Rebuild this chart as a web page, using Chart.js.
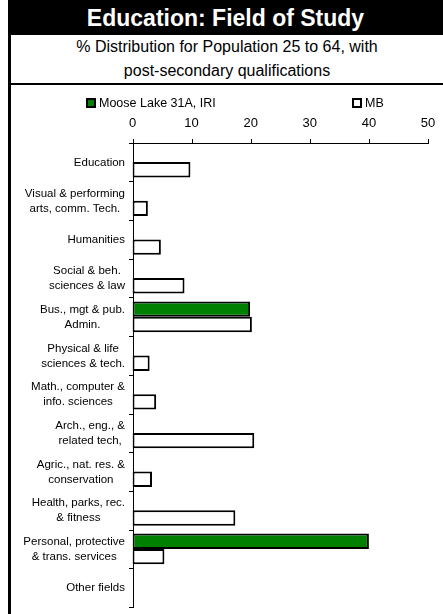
<!DOCTYPE html>
<html>
<head>
<meta charset="utf-8">
<script src="https://cdn.jsdelivr.net/npm/chart.js@4"></script>
<style>
  html, body { margin: 0; padding: 0; background: #fff; width: 443px; height: 614px; overflow: hidden; font-family: "Liberation Sans", Arial, sans-serif; }
  #frame { position: absolute; left: 8px; top: 0; width: 435px; height: 614px; border-left: 3px solid #000; box-sizing: border-box; }
  #title { position: absolute; left: 8px; top: 0; width: 435px; height: 35px; background: #000; color: #fff; font-weight: bold; font-size: 23px; line-height: 36px; text-align: center; }
  #subtitle { position: absolute; left: 11px; top: 35px; width: 432px; height: 48px; border-bottom: 2px solid #000; font-size: 16px; line-height: 24px; text-align: center; color: #000; }
  #chartwrap { position: absolute; left: 11px; top: 85px; width: 432px; height: 529px; z-index: 2; }
  .leg { position: absolute; top: 96px; font-size: 12.5px; line-height: 14px; color: #000; white-space: nowrap; z-index: 3; }
  .leg i { display: inline-block; width: 6px; height: 6px; border: 2px solid #000; vertical-align: -1px; margin-right: 3px; }
</style>
</head>
<body>
<div id="frame"></div>
<div id="title">Education: Field of Study</div>
<div id="subtitle">% Distribution for Population 25 to 64, with<br>post-secondary qualifications</div>
<div id="chartwrap"><canvas id="c"></canvas></div>
<div class="leg" style="left:86px"><i style="background:#008000"></i>Moose Lake 31A, IRI</div>
<div class="leg" style="left:352px"><i style="background:#fff"></i>MB</div>
<script>
const categories = [
  ["Education"],
  ["Visual & performing", "arts, comm. Tech."],
  ["Humanities"],
  ["Social & beh.", "sciences & law"],
  ["Bus., mgt & pub.", "Admin."],
  ["Physical & life", "sciences & tech."],
  ["Math., computer &", "info. sciences"],
  ["Arch., eng., &", "related tech,"],
  ["Agric., nat. res. &", "conservation"],
  ["Health, parks, rec.", "& fitness"],
  ["Personal, protective", "& trans. services"],
  ["Other fields"]
];
const seriesNames = ["Moose Lake 31A, IRI", "MB"];
const mooseLake = [0, 0, 0, 0, 19.9, 0, 0, 0, 0, 0, 40.0, 0];
const mb = [9.8, 2.6, 4.8, 8.8, 20.2, 2.9, 4.0, 20.6, 3.3, 17.4, 5.4, 0];
const xTicks = [0, 10, 20, 30, 40, 50];

const FONT = "'Liberation Sans', Arial, sans-serif";
const LABEL_SIZE = 11.5, LABEL_LH = 15;

// Category labels (lines centred on one another, block right-aligned),
// then axis lines and tick marks placed through the chart's own scales
const axisAndLabels = {
  id: 'axisAndLabels',
  afterDraw(chart) {
    const xs = chart.scales.x, ys = chart.scales.y, ctx = chart.ctx;
    ctx.save();
    ctx.font = LABEL_SIZE + "px " + FONT;
    ctx.fillStyle = '#000';
    ctx.textAlign = 'center';
    ctx.textBaseline = 'middle';
    const xLeft = Math.round(xs.getPixelForValue(xTicks[0]));
    categories.forEach((lines, i) => {
      const y = ys.getPixelForTick(i);
      const w = Math.max(...lines.map(l => ctx.measureText(l).width));
      const cx = xLeft - 8 - w / 2;
      lines.forEach((l, j) => {
        ctx.fillText(l, cx, y + 0.5 + (j - (lines.length - 1) / 2) * LABEL_LH);
      });
    });
    const top = Math.round(ys.getPixelForValue(-0.5));
    const bottom = Math.round(ys.getPixelForValue(categories.length - 0.5));
    const xRight = Math.round(xs.getPixelForValue(xTicks[xTicks.length - 1]));
    ctx.fillStyle = '#000000';
    ctx.fillRect(xLeft, top, xRight - xLeft + 1, 1);
    ctx.fillRect(xLeft, top, 1, bottom - top + 1);
    xTicks.forEach(v => {
      const x = Math.round(xs.getPixelForValue(v));
      ctx.fillRect(x, top - 4, 1, 5);
    });
    for (let i = 0; i <= categories.length; i++) {
      const y = Math.round(ys.getPixelForValue(i - 0.5));
      ctx.fillRect(xLeft - 4, y, 5, 1);
    }
    ctx.restore();
  }
};

const bw = c => (c.raw ? 2 : 0);

new Chart(document.getElementById('c'), {
  type: 'bar',
  data: {
    labels: categories,
    datasets: [
      { label: seriesNames[0], data: mooseLake, backgroundColor: '#008000', borderColor: '#000', borderWidth: bw, borderSkipped: false },
      { label: seriesNames[1], data: mb, backgroundColor: '#fff', borderColor: '#000', borderWidth: bw, borderSkipped: false }
    ]
  },
  options: {
    indexAxis: 'y',
    responsive: true,
    maintainAspectRatio: false,
    animation: false,
    devicePixelRatio: 1,
    datasets: { bar: { categoryPercentage: 0.795, barPercentage: 1.0 } },
    layout: { padding: { left: 0, right: 15, top: 0, bottom: 7 } },
    plugins: { legend: { display: false }, tooltip: { enabled: false }, title: { display: false } },
    scales: {
      x: {
        position: 'top',
        min: 0, max: 50,
        afterBuildTicks(s) { s.ticks = xTicks.map(v => ({ value: v })); },
        afterFit(s) { s.height = 57.7; },
        border: { display: false },
        grid: { display: false },
        ticks: { color: '#000', padding: 3, font: { family: FONT, size: 13 }, maxRotation: 0 }
      },
      y: {
        afterFit(s) { s.width = 121.5; },
        border: { display: false },
        grid: { display: false, offset: true },
        ticks: { display: false }
      }
    }
  },
  plugins: [axisAndLabels]
});
</script>
</body>
</html>
